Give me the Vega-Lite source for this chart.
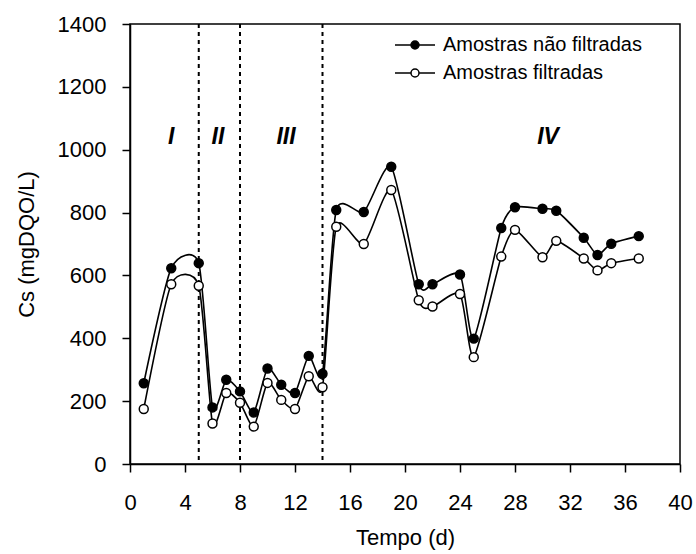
{
  "$schema": "https://vega.github.io/schema/vega-lite/v6.json",
  "width": 550,
  "height": 440,
  "autosize": {"type": "none"},
  "padding": {"left": 130, "top": 24, "right": 16, "bottom": 90},
  "background": "white",
  "config": {
    "font": "Liberation Sans",
    "view": {"stroke": "black", "strokeWidth": 1.5},
    "axis": {
      "grid": false,
      "domainColor": "black",
      "domainWidth": 1.5,
      "tickColor": "black",
      "tickWidth": 1.5,
      "tickSize": 8,
      "labelColor": "black",
      "labelFontSize": 22,
      "labelFont": "Liberation Sans",
      "titleColor": "black",
      "titleFontSize": 22,
      "titleFont": "Liberation Sans",
      "titleFontWeight": "normal",
      "labelOverlap": false,
      "labelFlush": false,
      "labelBound": false
    },
    "legend": {
      "orient": "none",
      "legendX": 274,
      "legendY": 10,
      "padding": 0,
      "title": null,
      "symbolType": "M-2,0H-0.4M0.4,0H2M-0.4,0A0.4,0.4,0,1,1,0.4,0A0.4,0.4,0,1,1,-0.4,0Z",
      "symbolSize": 400,
      "symbolStrokeColor": "black",
      "symbolStrokeWidth": 1.5,
      "labelFontSize": 20,
      "labelFont": "Liberation Sans",
      "labelColor": "black",
      "labelOffset": 17,
      "rowPadding": 7,
      "labelLimit": 400
    }
  },
  "datasets": {
    "cs": [
      {"t": 1, "serie": "Amostras não filtradas", "cs": 257},
      {"t": 3, "serie": "Amostras não filtradas", "cs": 623},
      {"t": 5, "serie": "Amostras não filtradas", "cs": 639},
      {"t": 6, "serie": "Amostras não filtradas", "cs": 180},
      {"t": 7, "serie": "Amostras não filtradas", "cs": 268},
      {"t": 8, "serie": "Amostras não filtradas", "cs": 231},
      {"t": 9, "serie": "Amostras não filtradas", "cs": 164},
      {"t": 10, "serie": "Amostras não filtradas", "cs": 304},
      {"t": 11, "serie": "Amostras não filtradas", "cs": 252},
      {"t": 12, "serie": "Amostras não filtradas", "cs": 226},
      {"t": 13, "serie": "Amostras não filtradas", "cs": 344},
      {"t": 14, "serie": "Amostras não filtradas", "cs": 287},
      {"t": 15, "serie": "Amostras não filtradas", "cs": 808},
      {"t": 17, "serie": "Amostras não filtradas", "cs": 802},
      {"t": 19, "serie": "Amostras não filtradas", "cs": 946},
      {"t": 21, "serie": "Amostras não filtradas", "cs": 572},
      {"t": 22, "serie": "Amostras não filtradas", "cs": 572},
      {"t": 24, "serie": "Amostras não filtradas", "cs": 603},
      {"t": 25, "serie": "Amostras não filtradas", "cs": 399},
      {"t": 27, "serie": "Amostras não filtradas", "cs": 751},
      {"t": 28, "serie": "Amostras não filtradas", "cs": 817},
      {"t": 30, "serie": "Amostras não filtradas", "cs": 812},
      {"t": 31, "serie": "Amostras não filtradas", "cs": 806},
      {"t": 33, "serie": "Amostras não filtradas", "cs": 720},
      {"t": 34, "serie": "Amostras não filtradas", "cs": 665},
      {"t": 35, "serie": "Amostras não filtradas", "cs": 701},
      {"t": 37, "serie": "Amostras não filtradas", "cs": 725},
      {"t": 1, "serie": "Amostras filtradas", "cs": 175},
      {"t": 3, "serie": "Amostras filtradas", "cs": 572},
      {"t": 5, "serie": "Amostras filtradas", "cs": 567},
      {"t": 6, "serie": "Amostras filtradas", "cs": 129},
      {"t": 7, "serie": "Amostras filtradas", "cs": 226},
      {"t": 8, "serie": "Amostras filtradas", "cs": 195},
      {"t": 9, "serie": "Amostras filtradas", "cs": 119},
      {"t": 10, "serie": "Amostras filtradas", "cs": 258},
      {"t": 11, "serie": "Amostras filtradas", "cs": 204},
      {"t": 12, "serie": "Amostras filtradas", "cs": 175},
      {"t": 13, "serie": "Amostras filtradas", "cs": 279},
      {"t": 14, "serie": "Amostras filtradas", "cs": 244},
      {"t": 15, "serie": "Amostras filtradas", "cs": 755},
      {"t": 17, "serie": "Amostras filtradas", "cs": 700},
      {"t": 19, "serie": "Amostras filtradas", "cs": 872},
      {"t": 21, "serie": "Amostras filtradas", "cs": 521},
      {"t": 22, "serie": "Amostras filtradas", "cs": 501},
      {"t": 24, "serie": "Amostras filtradas", "cs": 541},
      {"t": 25, "serie": "Amostras filtradas", "cs": 340},
      {"t": 27, "serie": "Amostras filtradas", "cs": 660},
      {"t": 28, "serie": "Amostras filtradas", "cs": 745},
      {"t": 30, "serie": "Amostras filtradas", "cs": 658},
      {"t": 31, "serie": "Amostras filtradas", "cs": 710},
      {"t": 33, "serie": "Amostras filtradas", "cs": 654},
      {"t": 34, "serie": "Amostras filtradas", "cs": 616},
      {"t": 35, "serie": "Amostras filtradas", "cs": 639},
      {"t": 37, "serie": "Amostras filtradas", "cs": 654}
    ],
    "fases": [
      {"t": 5},
      {"t": 8},
      {"t": 14}
    ],
    "rotulos": [
      {"t": 3, "cs": 1042, "fase": "I"},
      {"t": 6.4, "cs": 1042, "fase": "II"},
      {"t": 11.35, "cs": 1042, "fase": "III"},
      {"t": 30.4, "cs": 1042, "fase": "IV"}
    ]
  },
  "layer": [
    {
      "data": {"name": "fases"},
      "mark": {"type": "rule", "color": "black", "strokeWidth": 2, "strokeDash": [4, 4]},
      "encoding": {
        "x": {"field": "t", "type": "quantitative", "scale": {"domain": [0, 40], "nice": false}}
      }
    },
    {
      "data": {"name": "cs"},
      "mark": {"type": "line", "color": "black", "strokeWidth": 1.6, "interpolate": "cardinal", "tension": 0.35},
      "encoding": {
        "x": {
          "field": "t", "type": "quantitative",
          "scale": {"domain": [0, 40], "nice": false},
          "axis": {
            "values": [0, 2, 4, 6, 8, 10, 12, 14, 16, 18, 20, 22, 24, 26, 28, 30, 32, 34, 36, 38, 40],
            "labelExpr": "datum.value % 4 === 0 ? datum.label : ''",
            "labelPadding": 20,
            "title": "Tempo (d)",
            "titlePadding": 14
          }
        },
        "y": {
          "field": "cs", "type": "quantitative",
          "scale": {"domain": [0, 1400], "nice": false},
          "axis": {
            "values": [0, 100, 200, 300, 400, 500, 600, 700, 800, 900, 1000, 1100, 1200, 1300, 1400],
            "labelExpr": "datum.value % 200 === 0 ? datum.label : ''",
            "format": "d",
            "labelPadding": 16,
            "title": "Cs (mgDQO/L)",
            "titlePadding": 19
          }
        },
        "detail": {"field": "serie", "type": "nominal"}
      }
    },
    {
      "data": {"name": "cs"},
      "mark": {"type": "point", "shape": "circle", "filled": true, "stroke": "black", "strokeWidth": 1.5, "size": 80, "opacity": 1},
      "encoding": {
        "x": {"field": "t", "type": "quantitative"},
        "y": {"field": "cs", "type": "quantitative"},
        "fill": {
          "field": "serie", "type": "nominal",
          "scale": {"domain": ["Amostras não filtradas", "Amostras filtradas"], "range": ["black", "white"]},
          "legend": {}
        }
      }
    },
    {
      "data": {"name": "rotulos"},
      "mark": {"type": "text", "fontSize": 23, "fontStyle": "italic", "fontWeight": "bold", "color": "black", "baseline": "middle", "align": "center"},
      "encoding": {
        "x": {"field": "t", "type": "quantitative"},
        "y": {"field": "cs", "type": "quantitative"},
        "text": {"field": "fase", "type": "nominal"}
      }
    }
  ]
}
